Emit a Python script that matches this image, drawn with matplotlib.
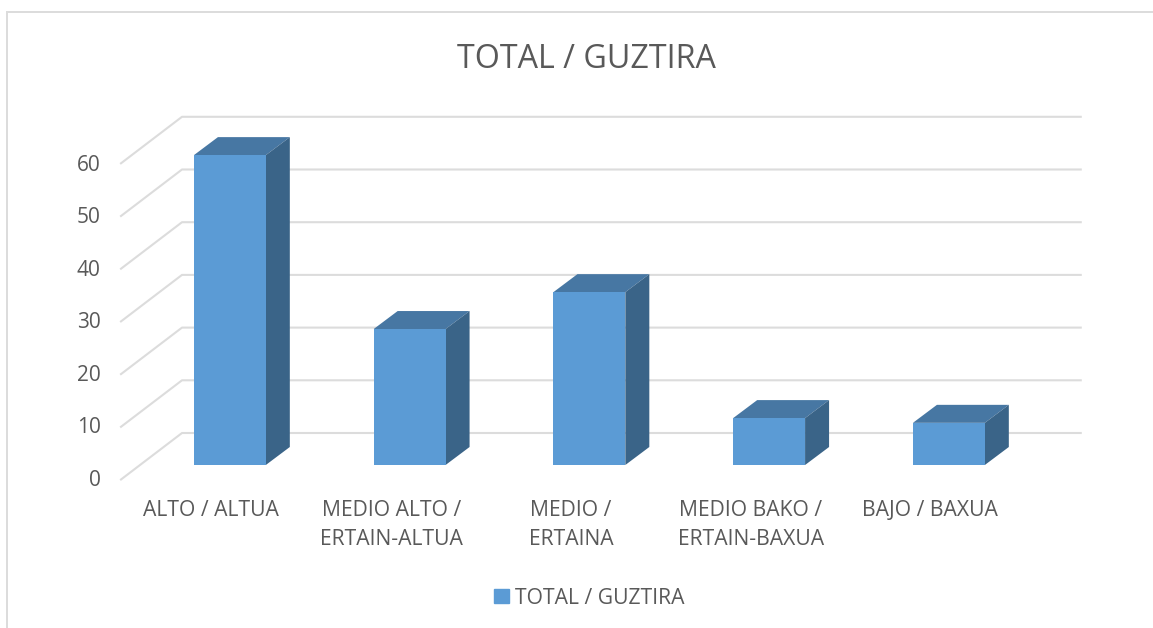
import matplotlib
matplotlib.use("Agg")
import matplotlib.pyplot as plt
from matplotlib.lines import Line2D
from matplotlib.patches import Patch, Polygon

W, H = 1153, 628

categories = ["ALTO / ALTUA", "MEDIO ALTO /\nERTAIN-ALTUA", "MEDIO /\nERTAINA",
              "MEDIO BAKO /\nERTAIN-BAXUA", "BAJO / BAXUA"]
values = [58.8, 25.8, 32.8, 8.9, 8.0]
y_ticks = [0, 10, 20, 30, 40, 50, 60]
series_name = "TOTAL / GUZTIRA"

FACE = "#5B9BD5"
TOP = "#4777A3"
SIDE = "#3A6488"
GRID = "#DCDCDC"
TEXT = "#595959"

plt.rcParams["font.family"] = ["Open Sans", "DejaVu Sans"]

fig = plt.figure(figsize=(W / 100, H / 100), dpi=100)

# axes is the plane of the bar fronts, ~180 px per category, 5.27 px per unit
CAT_W = 179.75
ax = fig.add_axes([140 / W, 1 - 465 / H, 5 * CAT_W / W, 316.2 / H])
ax.set_xlim(-0.5, 4.5)
ax.set_ylim(0, 60)
ax.axis("off")

px_x = 1 / CAT_W
px_y = 1 / 5.27

# fake 3d offsets, in data units
back_dx, back_dy = 42 * px_x, 32 * px_y
front_dx, front_dy = -19 * px_x, -14.5 * px_y
bar_dx, bar_dy = 24 * px_x, 18 * px_y
bar_w = 0.4

for t in y_ticks:
    ax.add_line(Line2D([-0.5 + front_dx, -0.5 + back_dx, 4.5 + back_dx],
                       [t + front_dy, t + back_dy, t + back_dy],
                       color=GRID, lw=1.5, clip_on=False, zorder=1))
    # labels sit a little tighter than the gridlines
    ax.text(-0.5 + front_dx - 20.5 * px_x, t * 0.995 + front_dy - 0.6 * px_y, str(t),
            ha="right", va="center", fontsize=15, color=TEXT, clip_on=False)

xs = list(range(len(values)))
ax.bar(xs, values, width=bar_w, color=FACE, clip_on=False, zorder=4)

for x, v in zip(xs, values):
    l, r = x - bar_w / 2, x + bar_w / 2
    ax.add_patch(Polygon([(l, v), (r, v), (r + bar_dx, v + bar_dy), (l + bar_dx, v + bar_dy)],
                         closed=True, fc=TOP, ec="none", clip_on=False, zorder=3))
    ax.add_patch(Polygon([(r, 0), (r + bar_dx, bar_dy), (r + bar_dx, v + bar_dy), (r, v)],
                         closed=True, fc=SIDE, ec="none", clip_on=False, zorder=3))

for x, label in zip(xs, categories):
    fig.text((140 + CAT_W * (x + 0.5) - 18.5) / W, 1 - 500.5 / H, label, ha="center", va="top",
             fontsize=15.2, color=TEXT, linespacing=1.47)

fig.text(586 / W, 1 - 60 / H, series_name, ha="center", va="center", fontsize=23.2, color=TEXT)

fig.legend(handles=[Patch(color=FACE, label=series_name)], loc="center",
           bbox_to_anchor=(589.5 / W, 1 - 598 / H), frameon=False, fontsize=15.2,
           labelcolor=TEXT, handlelength=0.68, handleheight=0.68, handletextpad=0.3)

# chart frame, only top and left show in the crop
fig.add_artist(Line2D([7 / W, 1], [1 - 12 / H, 1 - 12 / H], color=GRID, lw=1.4))
fig.add_artist(Line2D([7 / W, 7 / W], [0, 1 - 12 / H], color=GRID, lw=1.4))

fig.savefig("out.png", dpi=100)
